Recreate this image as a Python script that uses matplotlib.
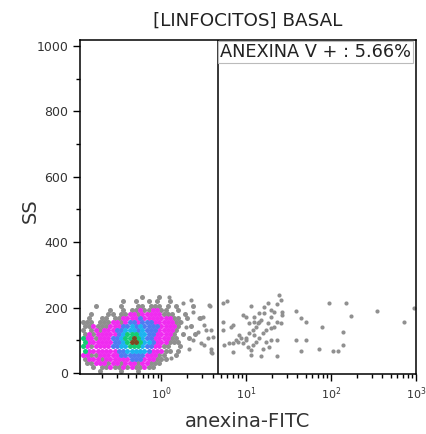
import numpy as np
import matplotlib.pyplot as plt

# density map of the main population
# rows go from top (high SS) to bottom, columns left -> right on the log axis
# ' ' empty, '.' grey, 'm' magenta, 'b' blue, 'c' cyan, 'g' green, 'r' dark red
density_rows = [
    "              .   .          ",
    "         .  .  . .  .        ",
    "   .     .   .. ... . .   .  ",
    "      .  . ..m..mm..  .      ",
    "  .   .. ..mm.mmmmm...  .    ",
    " .  .. ..mmmmbmmmmmmm.. .  . ",
    "... ...mm.mbbmbbbmmmmm..     ",
    "..m...mmmbbcbcbbbbmmmm.  .   ",
    ". .m.mmmbbcccbcbbbmmmm.      ",
    ".m.mmmmmbcgggccbbmmmm. .  .  ",
    "gmm.mmmbbcggrgcbbmmmm..  .   ",
    "gmmmmmmbbcgrrgccbmmm...      ",
    "gm.mmmmbbccgggcbbmm..  .     ",
    "gmmmmmmmbbcccccbmmm.. .      ",
    "mm..mmmmmbbbbbbmmm..  .      ",
    ".mmm.mmmmmmbbbmmm...         ",
    " ..mmm.mm.mmm.mm...          ",
    "  . ..m..m.m..m..            ",
    "    .    .   .               ",
]
log_x_start = -0.925
log_x_step = 0.05
ss_start = 6.25
ss_step = 12.5

# single events outside the dense population
events_x = [1.24, 2.23, 3.67, 1.78, 2.8, 3.2, 2.67, 2.34, 2.93, 3.8, 1.3, 2.13,
            3.35, 1.7, 1.95, 2.34, 3.7, 3.1, 3.8, 4.0, 3.2, 3.8, 3.9, 3.5,
            5.3, 6.0, 11.4, 17.8, 24.4, 25.6, 23.3, 16.3, 19.5, 26.7, 26.7,
            38.4, 44, 50, 94.7, 148, 171, 351, 723, 946, 79, 136, 38.4, 50,
            44, 72, 104, 119, 138, 23.3, 14.9, 6.9, 5.5, 6.9, 7.9, 9.1, 9.9,
            10.8, 11.9, 13, 13.6, 14.2, 14.9, 12.4, 10.8, 9.9, 10.4, 11.4,
            11.4, 11.9, 13, 14.2, 17, 19.5, 17.8, 21.3, 23.3, 19.5, 21.3,
            16.3, 14.2, 12.4, 9.9, 9.1, 6.9, 6.6, 5.3, 5.3, 8.3, 8.7, 7.6,
            6.3, 12.4, 15.6, 17, 19.5, 23.3, 25.6, 15.6, 18.6]
events_y = [233, 223, 208, 213, 167, 147, 126, 101, 91, 65, 45, 75,
            132, 157, 142, 188, 205, 172, 132, 110, 86, 75, 60, 106,
            213, 221, 205, 213, 239, 223, 211, 203, 193, 188, 177,
            191, 167, 157, 215, 215, 174, 191, 157, 198, 142, 126, 101, 101,
            68, 75, 68, 68, 86, 52, 52, 65, 86, 93, 96, 91, 101,
            121, 132, 142, 152, 157, 162, 157, 152, 106, 81, 70,
            55, 86, 96, 106, 132, 137, 152, 142, 157, 172, 188,
            183, 183, 172, 172, 177, 147, 142, 157, 132, 116, 106, 101,
            91, 116, 121, 96, 101, 101, 152, 75, 81]

gate_x = 4.7
gate_label = "ANEXINA V + : 5.66%"

level_colors = {'.': '#8f8f8f', 'm': '#f02cf0', 'b': '#4f7cf2',
                'c': '#1cb4f0', 'g': '#14cc74', 'r': '#7a4a20'}

fig = plt.figure(figsize=(4.27, 4.34), dpi=100)
ax = fig.add_axes([0.1874, 0.1382, 0.787, 0.7696])

ax.scatter(events_x, events_y, s=9, color='#909090', linewidths=0)

n_rows = len(density_rows)
for level in ['.', 'm', 'b', 'c', 'g', 'r']:
    xs, ys = [], []
    for i, row in enumerate(density_rows):
        # every other row is shifted half a cell so the dots don't line up
        shift = 0.5 * log_x_step * (i % 2)
        for j, ch in enumerate(row):
            if ch == level:
                xs.append(10 ** (log_x_start + j * log_x_step + shift))
                ys.append(ss_start + (n_rows - 1 - i) * ss_step)
    ax.scatter(xs, ys, s=13, color=level_colors[level], linewidths=0)

ax.axvline(gate_x, color='black', linewidth=1.1)

ax.set_xscale('log')
ax.set_xlim(0.11, 1000)
ax.set_ylim(-3, 1018)
ax.set_yticks([0, 200, 400, 600, 800, 1000])
ax.set_yticks(np.arange(100, 1000, 200), minor=True)
ax.set_xticks([1, 10, 100, 1000])
ax.set_xticklabels(['$10^0$', '$10^1$', '$10^2$', '$10^3$'])
ax.tick_params(axis='both', which='major', length=5, width=1, labelsize=8, labelcolor='#333333')
ax.tick_params(axis='both', which='minor', length=3, width=1)
ax.tick_params(axis='y', labelsize=9)
for lab in ax.get_yticklabels():
    lab.set_family(['Liberation Sans Narrow', 'DejaVu Sans'])
for sp in ax.spines.values():
    sp.set_linewidth(1.1)

ax.text(0.985, 0.992, gate_label, transform=ax.transAxes, ha='right', va='top',
        fontsize=12.8, color='#222222',
        bbox=dict(boxstyle='square,pad=0.12', facecolor='white', edgecolor='#bbbbbb', linewidth=0.8))

ax.set_title('[LINFOCITOS] BASAL', fontsize=13.2, color='#222222', pad=10)
ax.set_xlabel('anexina-FITC', fontsize=14, color='#333333', labelpad=7)
ax.set_ylabel('SS', fontsize=14, color='#333333')
ax.yaxis.set_label_coords(-0.12, 0.49)

fig.savefig('out.png', dpi=100)
